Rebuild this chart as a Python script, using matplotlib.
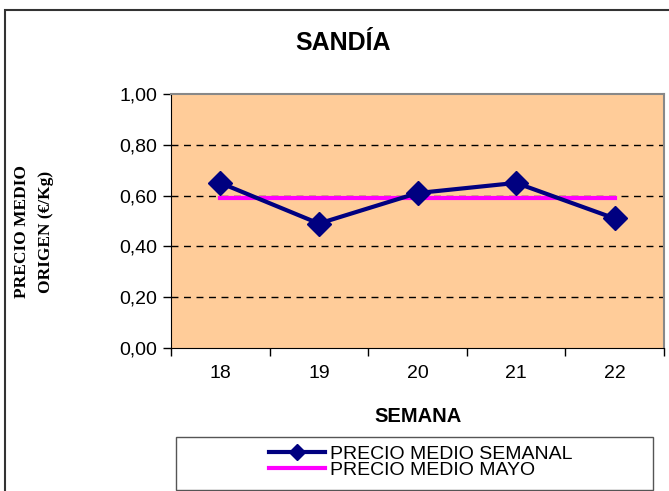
import matplotlib
matplotlib.use("Agg")
from matplotlib import pyplot as plt
from matplotlib.lines import Line2D
from matplotlib.patches import Rectangle

# data
semanas = ["18", "19", "20", "21", "22"]
precio_semanal = [0.65, 0.49, 0.61, 0.65, 0.51]
precio_mayo = [0.59, 0.59, 0.59, 0.59, 0.59]
yticks = [0.0, 0.2, 0.4, 0.6, 0.8, 1.0]
ytick_labels = ["0,00", "0,20", "0,40", "0,60", "0,80", "1,00"]

plt.rcParams['font.family'] = ['Liberation Sans', 'DejaVu Sans']

W, H = 669, 491
fig = plt.figure(figsize=(W / 100, H / 100), dpi=100)

# outer chart border
fig.patches.append(Rectangle((5 / W, -0.1), 1.2, 1.1 - 10 / H, transform=fig.transFigure,
                             fill=False, edgecolor="#333333", linewidth=1.5))

ax = fig.add_axes([171 / W, 1 - 348 / H, (664 - 171) / W, (348 - 94) / H])
ax.set_facecolor("#FFCC99")
x = list(range(1, len(semanas) + 1))

ax.plot(x, precio_mayo, color="#FF00FF", linewidth=3, zorder=3)
ax.plot(x, precio_semanal, color="#000080", linewidth=3, marker="D",
        markersize=12, zorder=4)

ax.set_xlim(0.5, len(semanas) + 0.5)
ax.set_ylim(0, 1.0)
ax.set_yticks(yticks)
ax.set_yticklabels(ytick_labels, fontsize=14)
ax.set_xticks([i + 0.5 for i in range(0, len(semanas) + 1)])
ax.set_xticklabels([])
ax.set_xticks(x, minor=True)
ax.set_xticklabels(semanas, minor=True, fontsize=14)
ax.tick_params(axis="x", which="minor", length=0, pad=12)
ax.tick_params(axis="x", which="major", length=6, direction="out", width=1)
ax.tick_params(axis="y", length=6, direction="out", width=1, pad=4)

for v in yticks[1:-1]:
    ax.axhline(v, color="black", linestyle=(0, (5, 4)), linewidth=1, zorder=1)

for s in ["left", "bottom"]:
    ax.spines[s].set_color("black")
for s in ["top", "right"]:
    ax.spines[s].set_color("#888888")
    ax.spines[s].set_linewidth(1.5)

fig.text(343 / W, 1 - 43 / H, "SANDÍA", ha="center", va="center",
         fontsize=18, fontweight="bold")
fig.text(418 / W, 1 - 416 / H, "SEMANA", ha="center", va="center",
         fontsize=14.5, fontweight="bold")
fig.text(34 / W, 1 - 232 / H, "PRECIO MEDIO\nORIGEN (€/Kg)", ha="center", va="center",
         rotation=90, fontsize=12.5, fontweight="bold", family="Liberation Serif",
         linespacing=1.6)

# legend box, wider than its entries
fig.patches.append(Rectangle((176 / W, 1 - 490 / H), (653 - 176) / W, (490 - 437) / H,
                             transform=fig.transFigure, fill=False,
                             edgecolor="#555555", linewidth=1))
handles = [
    Line2D([], [], color="#000080", linewidth=3, marker="D", markersize=8),
    Line2D([], [], color="#FF00FF", linewidth=3),
]
fig.legend(handles, ["PRECIO MEDIO SEMANAL", "PRECIO MEDIO MAYO"],
           loc="upper left", bbox_to_anchor=(269 / W, 1 - 445 / H),
           fontsize=14, frameon=False, handlelength=2.9, handletextpad=0.25,
           labelspacing=-0.05, borderpad=0, borderaxespad=0)

fig.savefig("out.png", dpi=100)
